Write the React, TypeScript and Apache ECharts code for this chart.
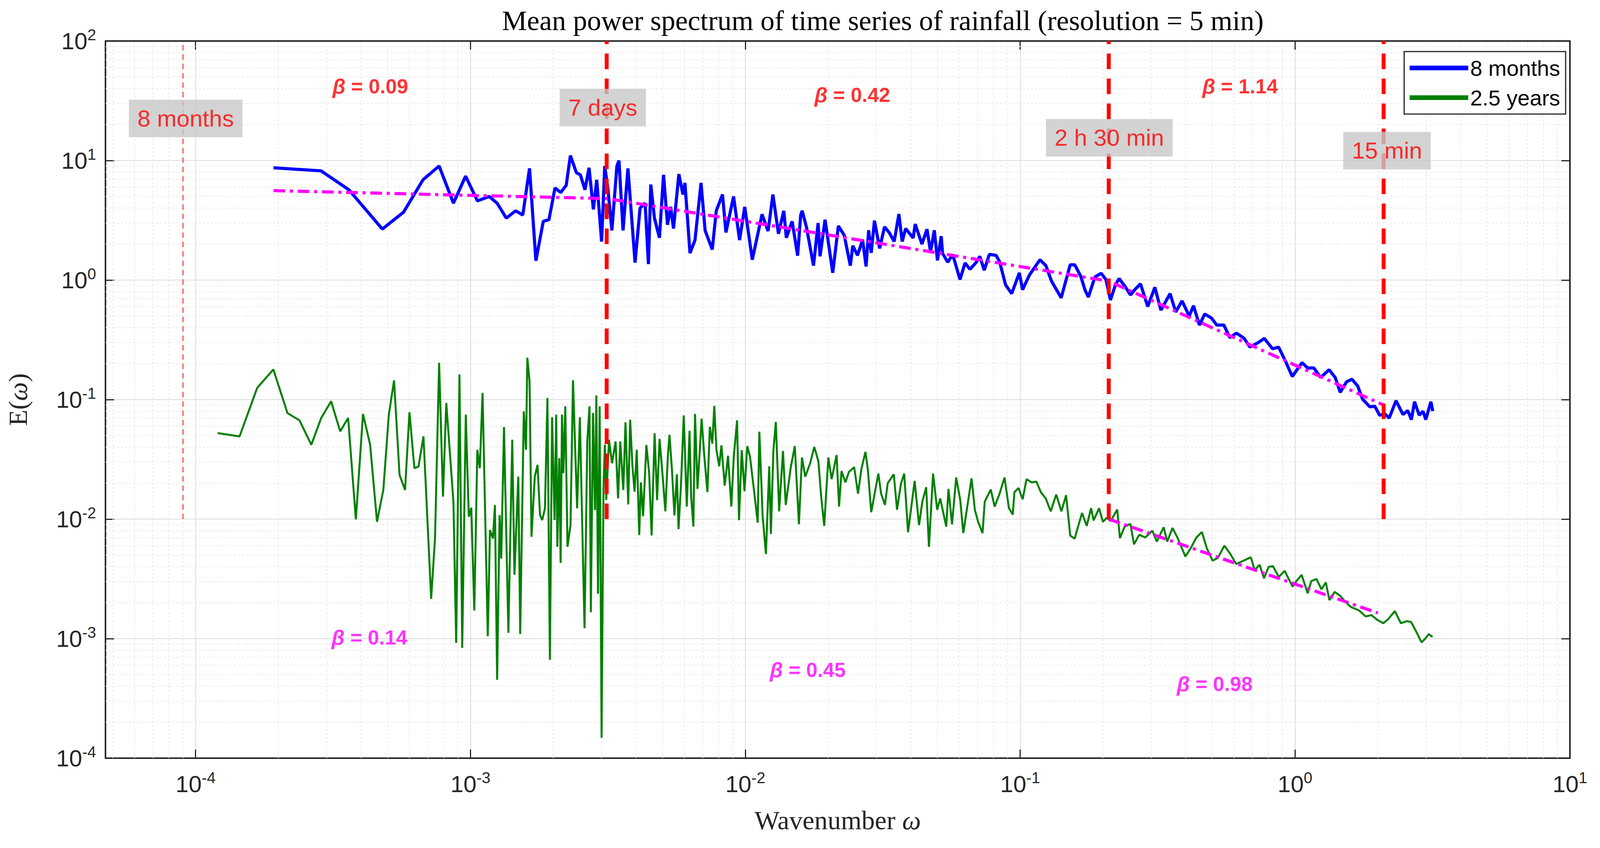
import React, { useEffect, useRef } from "react";
import * as echarts from "echarts";

const blueW = [1.92e-4,2.86e-4,3.61e-4,4.78e-4,5.71e-4,6.72e-4,7.69e-4,8.67e-4,9.60e-4,1.06e-3,1.17e-3,1.25e-3,1.35e-3,1.46e-3,1.55e-3,1.64e-3,1.73e-3,1.84e-3,1.93e-3,2.03e-3,2.13e-3,2.23e-3,2.31e-3,2.43e-3,2.51e-3,2.61e-3,2.70e-3,2.80e-3,2.88e-3,3.00e-3,3.08e-3,3.16e-3,3.27e-3,3.41e-3,3.47e-3,3.59e-3,3.74e-3,3.97e-3,4.14e-3,4.32e-3,4.44e-3,4.53e-3,4.67e-3,4.87e-3,5.04e-3,5.21e-3,5.35e-3,5.48e-3,5.73e-3,5.93e-3,6.03e-3,6.29e-3,6.56e-3,6.90e-3,7.14e-3,7.58e-3,7.84e-3,8.26e-3,8.50e-3,9.06e-3,9.53e-3,9.95e-3,1.06e-2,1.15e-2,1.21e-2,1.26e-2,1.32e-2,1.38e-2,1.41e-2,1.48e-2,1.55e-2,1.59e-2,1.61e-2,1.67e-2,1.77e-2,1.84e-2,1.87e-2,1.95e-2,2.08e-2,2.18e-2,2.29e-2,2.41e-2,2.46e-2,2.56e-2,2.67e-2,2.75e-2,2.81e-2,2.87e-2,2.95e-2,3.08e-2,3.21e-2,3.34e-2,3.48e-2,3.62e-2,3.72e-2,3.83e-2,4.08e-2,4.15e-2,4.39e-2,4.58e-2,4.72e-2,4.87e-2,5.00e-2,5.16e-2,5.22e-2,5.45e-2,5.68e-2,6.04e-2,6.30e-2,6.57e-2,6.92e-2,7.13e-2,7.40e-2,7.72e-2,8.17e-2,8.41e-2,8.85e-2,9.31e-2,9.93e-2,0.102,0.108,0.118,0.124,0.130,0.141,0.152,0.158,0.166,0.172,0.177,0.187,0.197,0.205,0.213,0.222,0.229,0.241,0.252,0.261,0.274,0.291,0.309,0.325,0.351,0.368,0.388,0.412,0.427,0.449,0.469,0.497,0.519,0.551,0.579,0.612,0.653,0.685,0.735,0.773,0.828,0.871,0.925,0.977,1.06,1.11,1.17,1.24,1.33,1.40,1.46,1.54,1.61,1.69,1.76,1.87,1.95,2.03,2.12,2.20,2.33,2.47,2.57,2.65,2.72,2.83,2.92,2.99,3.12,3.17];
const blueE = [8.7,8.2,5.7,2.67,3.7,6.9,9.0,4.4,7.4,4.6,5.0,4.4,3.3,3.8,3.5,8.6,1.45,3.1,3.2,5.9,5.4,6.2,11,7.9,7.6,5.7,8.7,3.9,6.9,2.1,9.0,5.9,2.6,9.0,10,2.6,8.6,1.4,4.0,4.4,1.36,6.3,3.3,2.26,7.6,2.9,4.1,2.7,7.7,5.2,6.5,1.68,2.16,6.5,2.6,1.8,3.8,5.2,2.5,5.0,2.16,4.1,1.48,3.55,2.57,5.2,2.44,3.8,2.26,3.1,1.6,3.5,3.8,2.75,1.32,3.0,1.58,3.2,1.15,2.84,2.37,1.32,1.94,1.61,2.18,1.30,2.61,1.69,3.14,1.84,2.79,2.49,2.1,3.57,2.1,2.7,2.25,2.94,2.0,2.66,1.72,2.61,1.46,2.33,1.67,1.41,1.64,1.01,1.39,1.23,1.41,1.58,1.21,1.64,1.61,1.43,0.91,0.77,1.15,0.83,1.1,1.48,1.32,0.98,0.71,1.34,1.34,1.08,0.83,0.72,1.06,1.14,1.01,0.68,0.91,1.03,0.88,0.75,0.83,0.93,0.60,0.87,0.56,0.77,0.54,0.67,0.50,0.61,0.42,0.52,0.48,0.42,0.42,0.33,0.36,0.325,0.275,0.30,0.325,0.266,0.275,0.207,0.156,0.204,0.184,0.184,0.153,0.178,0.153,0.115,0.141,0.148,0.13,0.101,0.087,0.088,0.074,0.076,0.070,0.098,0.075,0.081,0.068,0.096,0.074,0.080,0.068,0.096,0.080];

// green series as [log10(w), log10(E)]
const greenLog = [
[-3.920,-1.28],[-3.840,-1.308],[-3.776,-0.902],[-3.717,-0.748],[-3.666,-1.112],[-3.622,-1.174],[-3.579,-1.378],[-3.543,-1.154],[-3.507,-1.014],[-3.474,-1.266],[-3.445,-1.154],[-3.417,-2.003],[-3.391,-1.12],[-3.365,-1.378],[-3.340,-2.022],[-3.317,-1.756],[-3.297,-1.126],[-3.278,-0.84],[-3.258,-1.63],[-3.238,-1.756],[-3.222,-1.106],[-3.204,-1.574],[-3.189,-1.56],[-3.171,-1.308],[-3.143,-2.667],[-3.129,-2.162],[-3.114,-0.692],[-3.100,-1.812],[-3.088,-1.028],[-3.062,-1.854],[-3.052,-3.036],[-3.040,-0.79],[-3.030,-3.078],[-3.017,-1.126],[-3.006,-1.98],[-2.997,-1.905],[-2.986,-2.765],[-2.975,-1.42],[-2.966,-1.574],[-2.956,-0.944],[-2.937,-2.98],[-2.929,-2.092],[-2.918,-2.162],[-2.911,-1.882],[-2.903,-3.345],[-2.894,-1.966],[-2.888,-2.33],[-2.878,-1.23],[-2.862,-2.952],[-2.848,-1.336],[-2.840,-2.465],[-2.826,-1.644],[-2.819,-2.961],[-2.806,-1.098],[-2.798,-1.42],[-2.793,-0.65],[-2.785,-0.846],[-2.778,-2.148],[-2.766,-1.644],[-2.756,-1.546],[-2.747,-1.966],[-2.739,-2.008],[-2.729,-1.91],[-2.720,-0.986],[-2.711,-3.176],[-2.703,-1.148],[-2.694,-2.008],[-2.688,-1.126],[-2.684,-2.232],[-2.677,-1.49],[-2.672,-2.367],[-2.667,-1.126],[-2.662,-1.616],[-2.655,-1.056],[-2.647,-2.232],[-2.636,-2.05],[-2.627,-0.838],[-2.612,-1.91],[-2.602,-1.148],[-2.585,-2.913],[-2.575,-1.35],[-2.567,-1.056],[-2.562,-2.779],[-2.554,-1.112],[-2.547,-1.924],[-2.542,-0.966],[-2.536,-2.625],[-2.530,-1.056],[-2.523,-3.829],[-2.516,-1.742],[-2.511,-1.378],[-2.506,-1.84],[-2.496,-1.336],[-2.485,-1.532],[-2.472,-1.35],[-2.463,-1.826],[-2.455,-1.35],[-2.444,-1.756],[-2.436,-1.19],[-2.426,-1.877],[-2.419,-1.168],[-2.411,-1.546],[-2.403,-1.77],[-2.395,-1.42],[-2.386,-2.134],
[-2.380,-1.693],[-2.372,-1.976],[-2.360,-1.38],[-2.350,-1.612],[-2.341,-2.137],[-2.330,-1.282],[-2.321,-1.841],[-2.312,-1.329],[-2.299,-1.693],[-2.291,-1.935],[-2.282,-1.477],[-2.276,-1.295],[-2.267,-1.585],[-2.258,-1.969],[-2.249,-1.625],[-2.243,-2.084],[-2.234,-1.706],[-2.224,-1.133],[-2.213,-1.895],[-2.203,-1.261],[-2.197,-1.814],[-2.189,-2.063],[-2.183,-1.12],[-2.174,-1.747],[-2.159,-1.16],[-2.150,-1.45],[-2.138,-1.774],[-2.129,-1.228],[-2.120,-1.369],[-2.113,-1.053],[-2.105,-1.423],[-2.095,-1.558],[-2.087,-1.383],[-2.075,-1.72],[-2.063,-1.47],[-2.051,-1.895],[-2.042,-1.477],[-2.030,-1.174],[-2.023,-2.009],[-2.013,-1.423],[-2.003,-1.767],[-1.993,-1.389],[-1.983,-1.477],[-1.967,-1.787],[-1.955,-2.03],[-1.949,-1.268],[-1.937,-1.976],[-1.925,-2.292],[-1.913,-1.558],[-1.907,-2.124],[-1.898,-1.43],[-1.889,-1.187],[-1.877,-1.935],[-1.863,-1.43],[-1.853,-1.881],[-1.835,-1.571],[-1.820,-1.389],[-1.805,-2.043],[-1.794,-1.484],[-1.782,-1.646],[-1.764,-1.531],[-1.749,-1.396],[-1.734,-1.518],[-1.724,-1.814],[-1.713,-2.057],[-1.698,-1.484],[-1.686,-1.666],[-1.668,-1.464],[-1.659,-1.895],[-1.650,-1.598],[-1.636,-1.693],[-1.623,-1.605],[-1.604,-1.565],[-1.590,-1.787],[-1.578,-1.585],[-1.563,-1.437],[-1.554,-1.592],[-1.542,-1.942],[-1.516,-1.619],[-1.506,-1.787],[-1.492,-1.881],[-1.482,-1.7],[-1.460,-1.625],[-1.448,-1.922],[-1.434,-1.706],[-1.422,-1.619],[-1.408,-2.11],[-1.384,-1.68],[-1.368,-2.05],[-1.356,-1.854],[-1.342,-1.733],[-1.332,-2.232],[-1.317,-1.619],[-1.302,-1.922],[-1.291,-1.827],[-1.269,-2.063],[-1.261,-1.747],[-1.248,-2.043],[-1.233,-1.652],[-1.218,-1.841],[-1.207,-2.117],[-1.192,-1.888],[-1.177,-1.659],[-1.165,-1.922],[-1.153,-2.023],[-1.137,-2.117],[-1.129,-1.854],[-1.107,-1.753],[-1.093,-1.895],[-1.075,-1.787],[-1.057,-1.652],[-1.041,-1.908],[-1.027,-1.962],[-1.021,-1.774],[-1.006,-1.74],[-0.991,-1.834],[-0.977,-1.666],[-0.958,-1.693],[-0.941,-1.686],[-0.925,-1.774],[-0.907,-1.827],[-0.889,-1.935],[-0.869,-1.794],[-0.850,-1.935],[-0.833,-1.8],[-0.818,-2.137],[-0.802,-2.164],[-0.787,-2.043],[-0.775,-1.949],[-0.758,-2.057],[-0.742,-1.908],
[-0.733,-2.011],[-0.713,-1.909],[-0.699,-2.023],[-0.685,-1.989],[-0.671,-2.017],[-0.647,-1.92],[-0.637,-2.159],[-0.620,-2.063],[-0.599,-2.04],[-0.586,-2.211],[-0.567,-2.131],[-0.545,-2.154],[-0.519,-2.097],[-0.503,-2.188],[-0.478,-2.068],[-0.465,-2.188],[-0.446,-2.074],[-0.428,-2.154],[-0.399,-2.313],[-0.380,-2.245],[-0.359,-2.154],[-0.339,-2.108],[-0.321,-2.245],[-0.300,-2.347],[-0.281,-2.325],[-0.257,-2.222],[-0.236,-2.29],[-0.214,-2.376],[-0.187,-2.347],[-0.161,-2.319],[-0.147,-2.427],[-0.129,-2.382],[-0.113,-2.495],[-0.096,-2.399],[-0.081,-2.393],[-0.059,-2.484],[-0.038,-2.433],[-0.009,-2.564],[0.007,-2.513],[0.024,-2.467],[0.046,-2.621],[0.059,-2.518],[0.078,-2.501],[0.096,-2.587],[0.112,-2.53],[0.125,-2.678],[0.144,-2.609],[0.165,-2.643],[0.182,-2.689],[0.203,-2.735],[0.232,-2.763],[0.257,-2.814],[0.278,-2.803],[0.299,-2.843],[0.321,-2.871],[0.339,-2.837],[0.363,-2.769],[0.385,-2.871],[0.406,-2.854],[0.422,-2.86],[0.443,-2.951],[0.460,-3.031],[0.473,-3.002],[0.486,-2.962],[0.500,-2.985]];

const fitBlue = [[1.92e-4, 5.6], [3.16e-3, 4.8], [0.21, 0.98], [2.1, 0.09]];
const fitGreen = [[0.21, 0.0100], [2.0, 0.00164]];
const scaleLines = [{ w: 9.0e-5, thin: true }, { w: 3.13e-3 }, { w: 0.21 }, { w: 2.1 }];
const scaleLabels = [
  { w: 9.2e-5, e: 22.5, t: "8 months" },
  { w: 3.03e-3, e: 27.7, t: "7 days" },
  { w: 0.211, e: 15.5, t: "2 h 30 min" },
  { w: 2.16, e: 12.1, t: "15 min" },
];
const betaTop = [
  { w: 4.32e-4, e: 41.9, t: "0.09" },
  { w: 0.0245, e: 35.5, t: "0.42" },
  { w: 0.631, e: 41.9, t: "1.14" },
];
const betaBottom = [
  { w: 4.29e-4, e: 1.02e-3, t: "0.14" },
  { w: 0.01687, e: 5.48e-4, t: "0.45" },
  { w: 0.51, e: 4.19e-4, t: "0.98" },
];

const XMIN = 4.7e-5, XMAX = 10, YMIN = 1e-4, YMAX = 100;

function powLabel(v: number) {
  const l = Math.log10(v);
  const r = Math.round(l);
  if (Math.abs(l - r) > 1e-6) return "";
  return "{b|10}{s|" + r + "}";
}

export default function App() {
  const ref = useRef<HTMLDivElement>(null);
  useEffect(() => {
    const chart = echarts.init(ref.current!, undefined, { renderer: "svg" });
    const xMinor: any[] = [];
    for (let n = -5; n <= 0; n++) for (let m = 2; m <= 9; m++) {
      const v = m * Math.pow(10, n);
      if (v > XMIN && v < XMAX) xMinor.push([v, YMIN], [v, YMAX], "-");
    }
    const yMinor: any[] = [];
    for (let n = -4; n <= 1; n++) for (let m = 2; m <= 9; m++) {
      const v = m * Math.pow(10, n);
      yMinor.push([XMIN, v], [XMAX, v], "-");
    }
    const red = "#ff0000";
    const series: any[] = [
      { type: "line", data: xMinor, silent: true, symbol: "none", connectNulls: false,
        lineStyle: { color: "#e4e4e4", width: 2, type: [4, 6] }, z: 0 },
      { type: "line", data: yMinor, silent: true, symbol: "none", connectNulls: false,
        lineStyle: { color: "#e4e4e4", width: 2, type: [4, 6] }, z: 0 },
    ];
    scaleLines.forEach((s) => {
      series.push({ type: "line", silent: true, symbol: "none", z: 5,
        data: [[s.w, 1e-2], [s.w, YMAX]],
        lineStyle: s.thin ? { color: "#ff5050", width: 3, type: [14, 10] } : { color: red, width: 10, type: [40, 24] } });
    });
    series.push({ name: "8 months", type: "line", symbol: "none", z: 3,
      data: blueW.map((w, i) => [w, blueE[i]]), lineStyle: { color: "#0000ff", width: 8 }, itemStyle: { color: "#0000ff" } });
    series.push({ name: "2.5 years", type: "line", symbol: "none", z: 3,
      data: greenLog.map((p) => [Math.pow(10, p[0]), Math.pow(10, p[1])]), lineStyle: { color: "#008000", width: 5 }, itemStyle: { color: "#008000" } });
    series.push({ type: "line", symbol: "none", silent: true, z: 4, data: fitBlue,
      lineStyle: { color: "#ff00ff", width: 8, type: [30, 12, 8, 12] } });
    series.push({ type: "line", symbol: "none", silent: true, z: 4, data: fitGreen,
      lineStyle: { color: "#ff00ff", width: 8, type: [30, 12, 8, 12] } });
    series.push({ type: "scatter", symbolSize: 0, silent: true, z: 10,
      data: scaleLabels.map((s) => ({ value: [s.w, s.e], label: { formatter: s.t } })),
      label: { show: true, position: "inside", color: red, fontSize: 60, fontFamily: "Liberation Sans",
        backgroundColor: "#c8c8c8", padding: [20, 22, 16, 22] } });
    const betaRich = (c: string) => ({
      b: { fontStyle: "italic", fontWeight: "bold", fontSize: 54, color: c, fontFamily: "Liberation Sans" },
      n: { fontWeight: "bold", fontSize: 52, color: c, fontFamily: "Liberation Sans" },
    });
    series.push({ type: "scatter", symbolSize: 0, silent: true, z: 10,
      data: betaTop.map((s) => ({ value: [s.w, s.e], label: { formatter: "{b|β}{n| = " + s.t + "}" } })),
      label: { show: true, position: "inside", rich: betaRich("#ff0000") } });
    series.push({ type: "scatter", symbolSize: 0, silent: true, z: 10,
      data: betaBottom.map((s) => ({ value: [s.w, s.e], label: { formatter: "{b|β}{n| = " + s.t + "}" } })),
      label: { show: true, position: "inside", rich: betaRich("#ff00ff") } });

    const axisRich = {
      b: { fontSize: 60, fontFamily: "Liberation Sans", color: "#262626" },
      s: { fontSize: 40, fontFamily: "Liberation Sans", color: "#262626", verticalAlign: "top", padding: [0, 0, 32, 0] },
    };
    const axisLine = { show: true, lineStyle: { color: "#262626", width: 4 } };
    const tick = { show: true, inside: true, length: 22, lineStyle: { color: "#262626", width: 3 } };
    const nameRich = { a: { fontFamily: "Liberation Serif", fontSize: 68, color: "#262626" }, w: { fontFamily: "Liberation Serif", fontStyle: "italic", fontSize: 68, color: "#262626" } };
    chart.setOption({
      animation: false,
      backgroundColor: "#ffffff",
      title: { text: "Mean power spectrum of time series of rainfall (resolution = 5 min)", left: 2255, top: 12, textAlign: "center",
        textStyle: { fontFamily: "Liberation Serif", fontWeight: "normal", fontSize: 72, color: "#000" } },
      grid: { left: 270, right: 77, top: 105, bottom: 230, containLabel: false },
      legend: { data: ["8 months", "2.5 years"], orient: "vertical", right: 88, top: 132, itemWidth: 150, itemHeight: 12, itemGap: 20,
        backgroundColor: "#fff", borderColor: "#262626", borderWidth: 3, padding: [14, 14, 14, 14], borderRadius: 0,
        textStyle: { fontSize: 56, fontFamily: "Liberation Sans", color: "#000" }, icon: "rect" },
      xAxis: [
        { type: "log", logBase: 10, min: XMIN, max: XMAX, splitNumber: 6, axisLine, axisTick: tick,
          axisLabel: { formatter: powLabel, rich: axisRich, margin: 30, showMinLabel: true },
          splitLine: { show: true, lineStyle: { color: "#dcdcdc", width: 2 } },
          name: "{a|Wavenumber }{w|ω}", nameLocation: "middle", nameGap: 125, nameTextStyle: { rich: nameRich } },
        { type: "log", logBase: 10, min: XMIN, max: XMAX, splitNumber: 6, position: "top", axisLine, axisTick: tick,
          axisLabel: { show: false }, splitLine: { show: false } },
      ],
      yAxis: [
        { type: "log", logBase: 10, min: YMIN, max: YMAX, splitNumber: 6, axisLine, axisTick: tick,
          axisLabel: { formatter: powLabel, rich: axisRich, margin: 24 },
          splitLine: { show: true, lineStyle: { color: "#dcdcdc", width: 2 } },
          name: "{a|E(}{w|ω}{a|)}", nameLocation: "middle", nameGap: 190, nameRotate: 90, nameTextStyle: { rich: nameRich } },
        { type: "log", logBase: 10, min: YMIN, max: YMAX, splitNumber: 6, position: "right", axisLine, axisTick: tick,
          axisLabel: { show: false }, splitLine: { show: false } },
      ],
      series,
    });
    return () => chart.dispose();
  }, []);
  return <div ref={ref} style={{ position: "fixed", left: 0, top: 0, width: "100vw", height: "100vh" }} />;
}
